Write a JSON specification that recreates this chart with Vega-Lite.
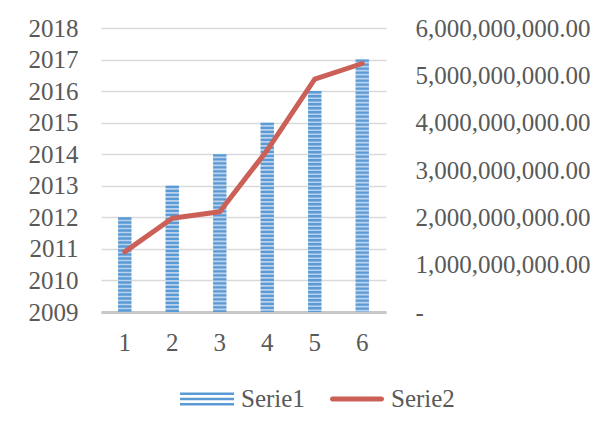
{
  "$schema": "https://vega.github.io/schema/vega-lite/v6.json",
  "width": 285,
  "height": 284,
  "autosize": "none",
  "padding": {"left": 101, "top": 28, "right": 221, "bottom": 129},
  "background": "white",
  "config": {
    "view": {"stroke": null},
    "font": "Liberation Serif",
    "axis": {"labelFont": "Liberation Serif", "labelFontSize": 25, "labelColor": "#595959", "titleColor": "#595959"}
  },
  "data": {
    "values": [
      {"x": 1, "serie1": 2012, "serie2": 1270000000},
      {"x": 2, "serie1": 2013, "serie2": 1980000000},
      {"x": 3, "serie1": 2014, "serie2": 2120000000},
      {"x": 4, "serie1": 2015, "serie2": 3420000000},
      {"x": 5, "serie1": 2016, "serie2": 4920000000},
      {"x": 6, "serie1": 2017, "serie2": 5250000000}
    ]
  },
  "encoding": {
    "x": {
      "field": "x",
      "type": "ordinal",
      "scale": {"paddingInner": 0.72, "paddingOuter": 0.36},
      "axis": {"title": null, "labelAngle": 0, "ticks": false, "tickSize": 0, "domainColor": "#c8c8c8", "domainWidth": 3, "labelPadding": 18, "grid": false}
    }
  },
  "layer": [
    {
      "encoding": {
        "y": {
          "field": "serie1",
          "type": "quantitative",
          "scale": {"domain": [2009, 2018], "zero": false, "nice": false},
          "axis": {"title": null, "values": [2009, 2010, 2011, 2012, 2013, 2014, 2015, 2016, 2017, 2018], "format": "d", "ticks": false, "tickSize": 0, "domain": false, "labelPadding": 23, "grid": true, "gridColor": "#d9d9d9", "gridWidth": 1.3}
        },
        "y2": {"datum": 2009}
      },
      "layer": [
        {"mark": {"type": "bar", "fill": "#bcd2ec"}},
        {
          "mark": {"type": "rule", "strokeWidth": 13.3, "strokeDash": [2.3, 1.7], "strokeCap": "butt"},
          "encoding": {
            "color": {
              "datum": "Serie1",
              "type": "nominal",
              "scale": {"domain": ["Serie1", "Serie2"], "range": ["#5b9bd5", "#cb6058"]},
              "legend": {
                "title": null,
                "orient": "none",
                "legendX": 79,
                "legendY": 344,
                "direction": "horizontal",
                "padding": 0,
                "labelFont": "Liberation Serif",
                "labelFontSize": 25,
                "labelColor": "#595959",
                "labelOffset": 7,
                "symbolSize": 2916,
                "columnPadding": 25,
                "encode": {
                  "symbols": {
                    "update": {
                      "shape": {"signal": "datum.value === 'Serie1' ? 'M-1,-0.245H1V-0.147H-1Z M-1,-0.049H1V0.049H-1Z M-1,0.147H1V0.245H-1Z' : 'M-0.91,-0.09H0.91A0.09,0.09 0 0 1 0.91,0.09H-0.91A0.09,0.09 0 0 1 -0.91,-0.09Z'"},
                      "fill": {"signal": "datum.value === 'Serie1' ? '#5b9bd5' : '#cb6058'"},
                      "stroke": {"value": "transparent"},
                      "strokeWidth": {"value": 0},
                      "opacity": {"value": 1}
                    }
                  }
                }
              }
            }
          }
        }
      ]
    },
    {
      "mark": {"type": "line", "strokeWidth": 5, "strokeCap": "round", "strokeJoin": "round"},
      "encoding": {
        "y": {
          "field": "serie2",
          "type": "quantitative",
          "scale": {"domain": [0, 6000000000], "nice": false},
          "axis": {"orient": "right", "title": null, "values": [0, 1000000000, 2000000000, 3000000000, 4000000000, 5000000000, 6000000000], "labelExpr": "datum.value == 0 ? '-' : format(datum.value, ',.2f')", "ticks": false, "tickSize": 0, "domain": false, "grid": false, "labelPadding": 29}
        },
        "color": {"datum": "Serie2", "type": "nominal"}
      }
    }
  ],
  "resolve": {"scale": {"y": "independent"}}
}
